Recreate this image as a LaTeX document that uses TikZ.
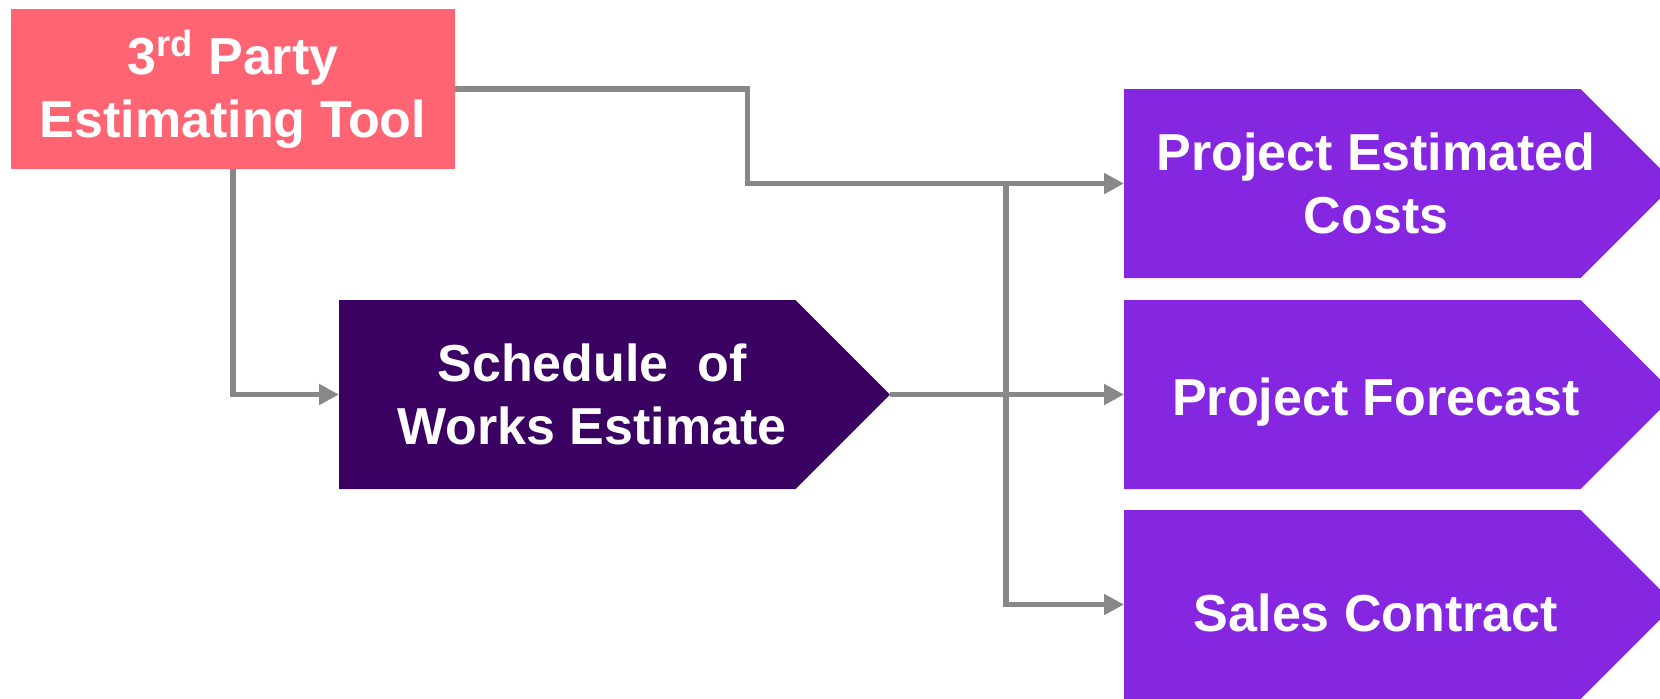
\documentclass[tikz,border=0pt]{standalone}
\usepackage{fontspec}
\setmainfont{Liberation Sans}
\usetikzlibrary{shapes.symbols,arrows.meta}

\definecolor{toolpink}{HTML}{FF6473}
\definecolor{darkplum}{HTML}{3A0062}
\definecolor{outviolet}{HTML}{8527E0}
\definecolor{linkgray}{HTML}{888888}

\tikzset{
  inbox/.style={rectangle, fill=toolpink, minimum width=222pt, minimum height=80pt, inner sep=0pt},
  stepsig/.style={signal, signal to=east, signal pointer angle=90, anchor=west,
                  minimum width=275.5pt, minimum height=94.5pt, inner sep=0pt, outer sep=0pt},
  boxtext/.style={text=white, align=center, font=\fontsize{26}{31.5}\selectfont\bfseries},
  link/.style={draw=linkgray, line width=2.75pt, -{Triangle[length=10pt,width=10pt]}},
}

\begin{document}
\begin{tikzpicture}[x=0.5pt,y=-0.5pt]
                  \useasboundingbox (0,0) rectangle (1660,698);

                  % Source box
                  \node[inbox, boxtext] (tool) at (233,89) {3\textsuperscript{rd} Party\\Estimating Tool};

                  % Schedule and outputs
                  \node[stepsig, fill=darkplum] (sched) at (339,394.5) {};
                  \node[stepsig, fill=outviolet] (cost) at (1124,183.5) {};
                  \node[stepsig, fill=outviolet] (fcst) at (1124,394.5) {};
                  \node[stepsig, fill=outviolet] (contract) at (1124,604.5) {};

                  \node[boxtext] (schedtxt) at ([xshift=126.5pt]sched.west) {Schedule\ \ of\\Works Estimate};
                  \node[boxtext] (costtxt) at ([xshift=126pt]cost.west) {Project Estimated\\Costs};
                  \node[boxtext] (fcsttxt) at ([xshift=126pt,yshift=-4pt]fcst.west) {Project Forecast};
                  \node[boxtext] (contracttxt) at ([xshift=126pt,yshift=-4pt]contract.west) {Sales Contract};

                  \coordinate (bus) at (1006,183.5);

                  % Connectors
                  \draw[link] (tool.east) -- ++(292,0) |- (cost.west);
                  \draw[link] (tool.south) |- (sched.west);
                  \draw[link] (sched.east) -- (fcst.west);
                  \draw[link] (bus) |- (contract.west);
\end{tikzpicture}
\end{document}
